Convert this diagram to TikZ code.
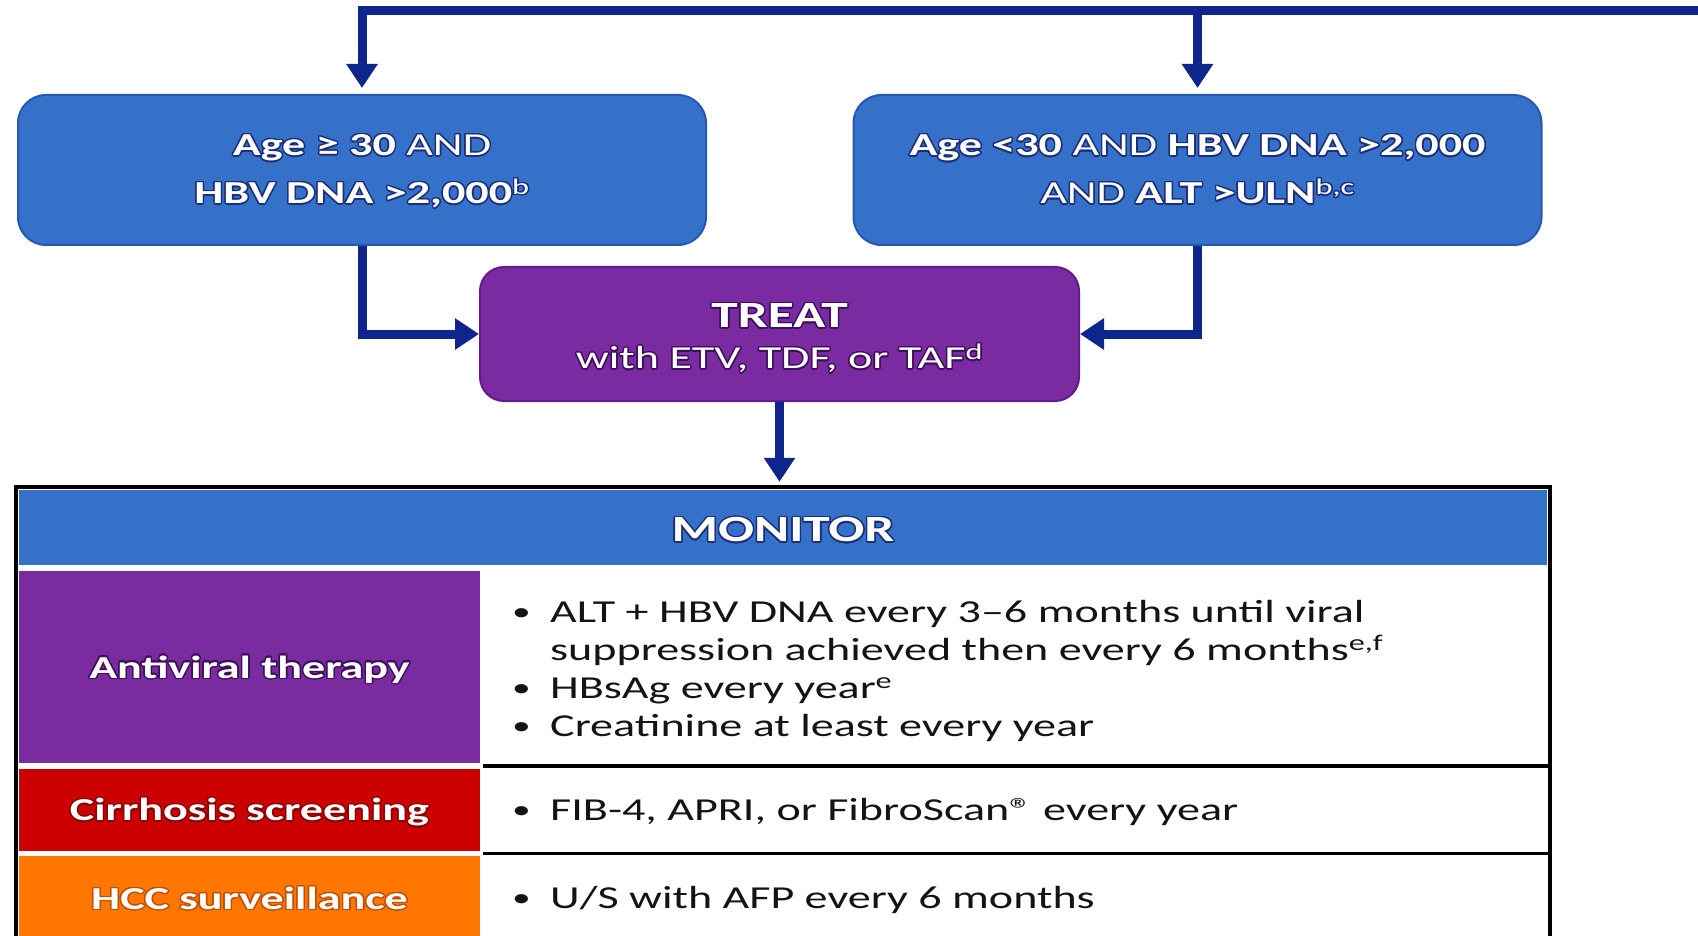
\documentclass[tikz,border=0pt]{standalone}
\usepackage{fontspec}
\setmainfont{Carlito}[FakeStretch=1.44]
\usepackage{contour}
\contourlength{1.4pt}
\contournumber{24}
\usetikzlibrary{arrows.meta}
\definecolor{boxblue}{RGB}{53,113,201}
\definecolor{boxblueedge}{RGB}{38,88,178}
\definecolor{treatpurple}{RGB}{122,43,162}
\definecolor{treatedge}{RGB}{98,28,138}
\definecolor{arrownavy}{RGB}{14,38,140}
\definecolor{cellpurple}{RGB}{122,43,160}
\definecolor{cellred}{RGB}{204,0,0}
\definecolor{cellorange}{RGB}{255,118,0}
\definecolor{bodytext}{RGB}{20,20,20}
\definecolor{glowblue}{RGB}{28,48,120}
\definecolor{glowpurple}{RGB}{62,16,92}
\definecolor{glowred}{RGB}{140,0,0}
\definecolor{gloworange}{RGB}{190,80,0}
\newcommand{\bodyfont}{\fontsize{32}{38}\selectfont}
\newcommand{\headfont}{\fontsize{37}{44}\selectfont\bfseries}
\newcommand{\bul}{\makebox[40pt][l]{\hspace{2pt}\raisebox{1.5pt}{\fontsize{26}{26}\selectfont •}}}
\newcommand{\dropby}[2]{\raisebox{-#1}[\height][\depth]{#2}}
\begin{document}
\begin{tikzpicture}[x=1pt,y=-1pt,
  condbox/.style={rectangle, rounded corners=28pt, fill=boxblue, draw=boxblueedge,
    line width=2pt, minimum width=688pt, minimum height=150pt, text=white,
    align=center, inner sep=0pt, font=\fontsize{32}{48}\selectfont},
  treatbox/.style={rectangle, rounded corners=24pt, fill=treatpurple, draw=treatedge,
    line width=2pt, minimum width=599pt, minimum height=134pt, text=white,
    align=center, inner sep=0pt, font=\fontsize{32}{41}\selectfont},
  hdr/.style={rectangle, fill=boxblue, minimum width=1528pt, minimum height=75pt,
    inner sep=0pt, text=white, font=\headfont},
  cell/.style={rectangle, minimum width=461pt, inner sep=0pt, text=white,
    font=\bodyfont\bfseries},
  item/.style={anchor=base west, inner sep=0pt, text=bodytext, font=\bodyfont},
  conn/.style={draw=arrownavy, line width=9pt, line join=miter,
    -{Triangle[width=30pt,length=24pt]}},
  divider/.style={draw=black, line width=3.5pt}
]
\clip (0,0) rectangle (1698,936);
\fill[white] (0,0) rectangle (1698,936);

% condition boxes
\node[condbox] (lb) at (362,170) {\dropby{2pt}{\contour{glowblue}{\textbf{Age ≥ 30} AND}}\\ \dropby{2pt}{\contour{glowblue}{\textbf{HBV DNA >2,000}\textsuperscript{b}}}};
\node[condbox] (rb) at (1197.5,170) {\contour{glowblue}{\textbf{Age <30} AND \textbf{HBV DNA >2,000}}\\ \contour{glowblue}{AND \textbf{ALT >ULN}\textsuperscript{b,c}}};

% treat box
\node[treatbox] (treat) at (779.5,334) {\dropby{5pt}{\contour{glowpurple}{\fontsize{37}{41}\selectfont\bfseries TREAT}}\\ \dropby{5pt}{\contour{glowpurple}{with ETV, TDF, or TAF\textsuperscript{d}}}};

% monitor table
\node[hdr] (monitor) at (783,527.5) {\dropby{3pt}{\contour{glowblue}{MONITOR}}};
\node[cell, fill=cellpurple, minimum height=192pt] (av) at (249.5,667) {\dropby{3pt}{\contour{glowpurple}{Antiviral therapy}}};
\node[cell, fill=cellred, minimum height=82pt] (cs) at (249.5,810) {\dropby{3pt}{\contour{glowred}{Cirrhosis screening}}};
\node[cell, fill=cellorange, minimum height=86pt] (hcc) at (249.5,899) {\contour{gloworange}{HCC surveillance}};

\node[item] (a1) at (510,622) {\bul ALT + HBV DNA every 3–6 months until viral};
\node[item] (a2) at (550,660) {suppression achieved then every 6 months\textsuperscript{e,f}};
\node[item] (a3) at (510,698) {\bul HBsAg every year\textsuperscript{e}};
\node[item] (a4) at (510,736) {\bul Creatinine at least every year};
\node[item] (c1) at (510,820) {\bul FIB-4, APRI, or FibroScan® every year};
\node[item] (h1) at (510,908) {\bul U/S with AFP every 6 months};

\draw[divider] (483,766) -- (1548,766);
\draw[divider] (483,853.5) -- (1548,853.5);
\draw[line width=4pt] (16,487) rectangle (1550,980);

% connectors
\coordinate (feed) at (1720,11);
\draw[conn, shorten >=6pt] (feed) -| (lb.north);
\draw[conn, shorten >=6pt] (rb.north |- feed) -- (rb.north);
\draw[conn] (lb.south) |- (treat.west);
\draw[conn] (rb.south) |- (treat.east);
\draw[conn, shorten >=8pt] (treat.south) -- (treat.south |- monitor.north);
\end{tikzpicture}
\end{document}
